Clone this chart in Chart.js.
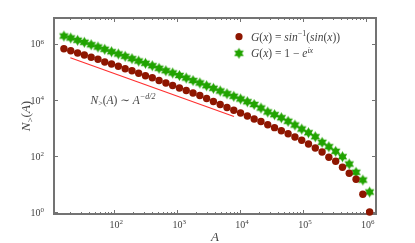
<!DOCTYPE html>
<html>
<head>
<meta charset="utf-8">
<script src="https://cdn.jsdelivr.net/npm/chart.js@4.4.1/dist/chart.umd.min.js"></script>
<style>
html,body{margin:0;padding:0;background:#fff;}
canvas{display:block;}
</style>
</head>
<body>
<canvas id="c" width="415" height="243"></canvas>
<script>
// ---- data ----
const areaA = [15.8, 20.3, 26.1, 33.4, 42.9, 55.0, 70.5, 90.4, 116, 149,
  191, 244, 313, 402, 515, 661, 847, 1086, 1393, 1786,
  2291, 2938, 3767, 4831, 6194, 7943, 10186, 13062, 16749, 21478,
  27542, 35318, 45290, 58076, 74473, 95499, 122462, 157036, 201372, 258226,
  331131, 424620, 544503, 698232, 895365, 1148154];
const nSinInvSin = [6.79e5, 5.77e5, 4.77e5, 4.05e5, 3.35e5, 2.84e5, 2.28e5, 1.93e5, 1.60e5, 1.31e5,
  1.11e5, 8.99e4, 7.38e4, 6.25e4, 4.97e4, 4.05e4, 3.30e4, 2.68e4, 2.18e4, 1.78e4,
  1.45e4, 1.13e4, 8.84e3, 6.91e3, 5.40e3, 4.29e3, 3.43e3, 2.68e3, 2.10e3, 1.71e3,
  1.31e3, 1.03e3, 801, 626, 477, 364, 268, 193, 139, 89.9,
  64.7, 39.5, 24.1, 14.7, 4.29, 1];
const nOneMinusExp = [1.93e6, 1.64e6, 1.36e6, 1.15e6, 9.44e5, 7.81e5, 6.47e5, 5.31e5, 4.40e5, 3.64e5,
  2.99e5, 2.47e5, 2.05e5, 1.68e5, 1.36e5, 1.11e5, 9.21e4, 7.50e4, 6.11e4, 4.97e4,
  4.05e4, 3.24e4, 2.62e4, 2.10e4, 1.68e4, 1.36e4, 1.09e4, 8.69e3, 6.91e3, 5.18e3,
  3.73e3, 2.99e3, 2.33e3, 1.74e3, 1.28e3, 921, 679, 489, 308, 215,
  147, 94.4, 51.8, 26.2, 13.9, 5.18];
const guideA = [20, 8000];
const guideN = [3.24e5, 2.58e3];

const xTickValues = [1e2, 1e3, 1e4, 1e5, 1e6];
const xTickLabels = [['10','2'], ['10','3'], ['10','4'], ['10','5'], ['10','6']];
const yTickValues = [1, 1e2, 1e4, 1e6];
const yTickLabels = [['10','0'], ['10','2'], ['10','4'], ['10','6']];

const seriesNames = [
  [['G','i'],['(','r'],['x','i'],[') = ','r'],['sin','i'],['\u22121','sup'],['(','r'],['sin','i'],['(','r'],['x','i'],['))','r']],
  [['G','i'],['(','r'],['x','i'],[') = 1 \u2212 ','r'],['e','i'],['ix','supi']]
];
const guideLabel = [['N','i'],['>','sub'],['(','r'],['A','i'],[') \u223C ','r'],['A','i'],['\u2212d/2','supi']];
const yTitle = [['N','i'],['>','sub'],['(','r'],['A','i'],[')','r']];
const xTitle = [['A','i']];

// ---- styling ----
const RED = '#8e1600';
const GREEN = '#21a300';
const FRAME = '#737373';
const TEXT = '#444444';
const SERIF = '"Liberation Serif", "DejaVu Serif", serif';

function makeStar(r, color) {
  const size = Math.ceil(r * 2 + 2);
  const cv = document.createElement('canvas');
  cv.width = size; cv.height = size;
  const g = cv.getContext('2d');
  const c = size / 2, ri = r * 0.56;
  g.beginPath();
  for (let i = 0; i < 12; i++) {
    const ang = -Math.PI / 2 + i * Math.PI / 6;
    const rr = i % 2 === 0 ? r : ri;
    const px = c + rr * Math.cos(ang), py = c + rr * Math.sin(ang);
    if (i === 0) g.moveTo(px, py); else g.lineTo(px, py);
  }
  g.closePath();
  g.fillStyle = color;
  g.fill();
  return cv;
}
const starImg = makeStar(5.5, GREEN);

function fontFor(s, size) {
  const small = (s === 'sup' || s === 'supi' || s === 'sub');
  const it = (s === 'i' || s === 'supi');
  return (it ? 'italic ' : '') + (small ? Math.round(size * 0.68) : size) + 'px ' + SERIF;
}
function richWidth(ctx, segs, size) {
  let w = 0;
  for (const [t, s] of segs) {
    ctx.font = fontFor(s, size);
    w += ctx.measureText(t).width;
  }
  return w;
}
function drawRich(ctx, segs, x, y, size, align) {
  const w = richWidth(ctx, segs, size);
  let cx = align === 'center' ? x - w / 2 : (align === 'right' ? x - w : x);
  ctx.textBaseline = 'alphabetic';
  ctx.textAlign = 'left';
  for (const [t, s] of segs) {
    ctx.font = fontFor(s, size);
    let dy = 0;
    if (s === 'sup' || s === 'supi') dy = -size * 0.38;
    if (s === 'sub') dy = size * 0.22;
    ctx.fillText(t, cx, y + dy);
    cx += ctx.measureText(t).width;
  }
}

const decor = {
  id: 'decor',
  beforeDatasetsDraw(chart) {
    const ctx = chart.ctx, a = chart.chartArea;
    const xs = chart.scales.x, ys = chart.scales.y;
    ctx.save();
    ctx.strokeStyle = FRAME;
    ctx.lineWidth = 1;
    const lo = Math.floor(Math.log10(xs.min)), hi = Math.ceil(Math.log10(xs.max));
    ctx.beginPath();
    for (let e = lo; e <= hi; e++) {
      for (let m = 1; m <= 9; m++) {
        const v = m * Math.pow(10, e);
        if (v < xs.min || v > xs.max) continue;
        const px = Math.round(xs.getPixelForValue(v)) + 0.5;
        const len = m === 1 ? 4 : 2;
        ctx.moveTo(px, a.bottom); ctx.lineTo(px, a.bottom - len);
        ctx.moveTo(px, a.top); ctx.lineTo(px, a.top + len);
      }
    }
    for (const t of ys.ticks) {
      const py = Math.round(ys.getPixelForValue(t.value)) + 0.5;
      ctx.moveTo(a.left, py); ctx.lineTo(a.left + 4, py);
      ctx.moveTo(a.right, py); ctx.lineTo(a.right - 4, py);
    }
    ctx.stroke();
    ctx.lineWidth = 2;
    ctx.strokeRect(a.left, a.top, a.right - a.left, a.bottom - a.top);
    ctx.restore();
  },
  afterDraw(chart) {
    const ctx = chart.ctx, a = chart.chartArea;
    const xs = chart.scales.x, ys = chart.scales.y;
    ctx.save();
    ctx.fillStyle = TEXT;
    xs.ticks.forEach((t, i) => {
      const lab = xTickLabels[i];
      const px = xs.getPixelForValue(t.value);
      drawRich(ctx, [[lab[0], 'r'], [lab[1], 'sup']], px + 2, a.bottom + 14, 10, 'center');
    });
    ys.ticks.forEach((t, i) => {
      const lab = yTickLabels[i];
      const py = ys.getPixelForValue(t.value);
      drawRich(ctx, [[lab[0], 'r'], [lab[1], 'sup']], a.left - 10, py + 3.5, 10, 'right');
    });
    drawRich(ctx, xTitle, (a.left + a.right) / 2, a.bottom + 27, 13, 'center');
    ctx.save();
    ctx.translate(a.left - 24, (a.top + a.bottom) / 2);
    ctx.rotate(-Math.PI / 2);
    drawRich(ctx, yTitle, 0, 0, 13, 'center');
    ctx.restore();
    drawRich(ctx, guideLabel, 90.5, 103.5, 11.5, 'left');
    const lx = 239, ly = [36.7, 53.3];
    ctx.fillStyle = RED;
    ctx.beginPath(); ctx.arc(lx, ly[0], 3.6, 0, Math.PI * 2); ctx.fill();
    ctx.drawImage(starImg, lx - starImg.width / 2, ly[1] - starImg.height / 2);
    ctx.fillStyle = TEXT;
    drawRich(ctx, seriesNames[0], 251, ly[0] + 3.8, 11.5, 'left');
    drawRich(ctx, seriesNames[1], 251, ly[1] + 3.8, 11.5, 'left');
    ctx.restore();
  }
};

new Chart(document.getElementById('c'), {
  type: 'scatter',
  data: {
    datasets: [
      {
        label: 'guide',
        data: guideA.map((v, i) => ({x: v, y: guideN[i]})),
        showLine: true,
        borderColor: '#ff3030',
        borderWidth: 1.2,
        pointRadius: 0,
        clip: false
      },
      {
        label: 'G(x) = sin^-1(sin(x))',
        data: areaA.map((v, i) => ({x: v, y: nSinInvSin[i]})),
        pointRadius: 3.7,
        pointBackgroundColor: RED,
        pointBorderColor: RED,
        pointBorderWidth: 0,
        clip: false
      },
      {
        label: 'G(x) = 1 - e^ix',
        data: areaA.map((v, i) => ({x: v, y: nOneMinusExp[i]})),
        pointStyle: starImg,
        pointRadius: 5.5,
        clip: false
      }
    ]
  },
  options: {
    responsive: false,
    devicePixelRatio: 1,
    animation: false,
    events: [],
    layout: {padding: {left: 0, right: 39, top: 18, bottom: 0}},
    plugins: {legend: {display: false}, tooltip: {enabled: false}},
    scales: {
      x: {
        type: 'logarithmic', min: 11.0, max: 1.45e6,
        grid: {display: false}, border: {display: false},
        ticks: {display: false},
        afterBuildTicks: s => { s.ticks = xTickValues.map(v => ({value: v})); },
        afterFit: s => { s.height = 29; }
      },
      y: {
        type: 'logarithmic', min: 0.849, max: 8.48e6,
        grid: {display: false}, border: {display: false},
        ticks: {display: false},
        afterBuildTicks: s => { s.ticks = yTickValues.map(v => ({value: v})); },
        afterFit: s => { s.width = 54; }
      }
    }
  },
  plugins: [decor]
});
</script>
</body>
</html>
